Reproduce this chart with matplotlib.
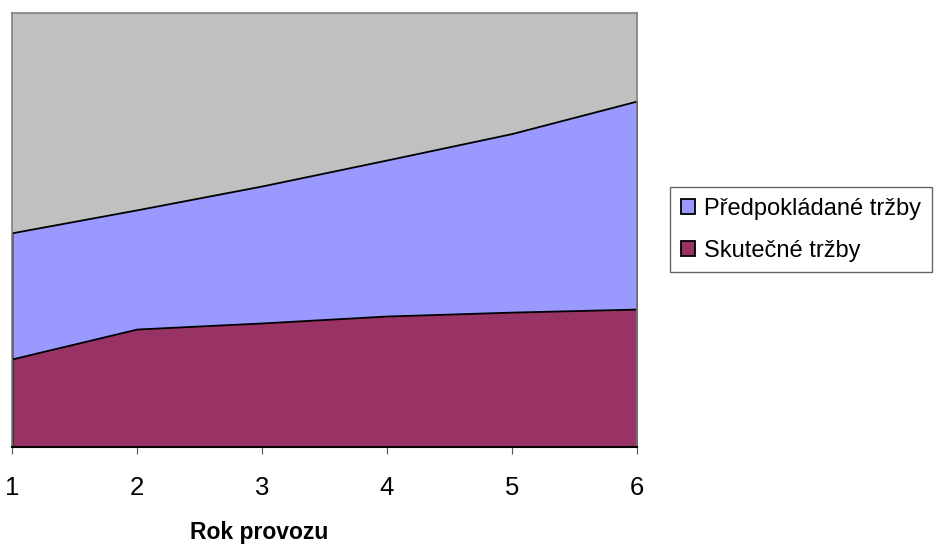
import matplotlib.pyplot as plt
import numpy as np

# rok provozu a odhadnute hodnoty (relativni jednotky)
roky = [1, 2, 3, 4, 5, 6]
predpokladane = [49.3, 54.6, 60.1, 66.1, 72.2, 79.7]
skutecne = [20.2, 27.1, 28.5, 30.1, 31.0, 31.7]

plt.rcParams['font.family'] = ['Liberation Sans', 'DejaVu Sans']

fig = plt.figure(figsize=(9.44, 5.44), dpi=100)
ax = fig.add_axes([12 / 944, 1 - 446.5 / 544, 625 / 944, 433.5 / 544])
ax.set_facecolor('#C0C0C0')

ax.fill_between(roky, 0, predpokladane, facecolor='#9999FF', edgecolor='black',
                linewidth=1.3, label='Předpokládané tržby')
ax.fill_between(roky, 0, skutecne, facecolor='#993366', edgecolor='black',
                linewidth=1.3, label='Skutečné tržby')

ax.set_xlim(1, 6)
ax.set_ylim(0, 100)
ax.set_yticks([])
ax.set_xticks(roky)
ax.tick_params(axis='x', length=5, width=0.8, color='#555555', pad=16, labelsize=18.5)

for s in ['top', 'right', 'left']:
    ax.spines[s].set_color('#808080')
    ax.spines[s].set_linewidth(1.2)
ax.spines['bottom'].set_color('black')
ax.spines['bottom'].set_linewidth(1.5)

fig.text(259 / 944, 1 - 532 / 544, 'Rok provozu', ha='center', va='center',
         fontsize=16.5, fontweight='bold')

leg = ax.legend(loc='upper left', bbox_to_anchor=(670 / 944, 1 - 187 / 544),
                bbox_transform=fig.transFigure, fontsize=17, frameon=True,
                fancybox=False, edgecolor='#404040', handlelength=0.6,
                handleheight=0.6, handletextpad=0.4, borderpad=0.45,
                borderaxespad=0, labelspacing=0.85)
leg.get_frame().set_linewidth(1.0)

fig.savefig('out.png', dpi=100)
